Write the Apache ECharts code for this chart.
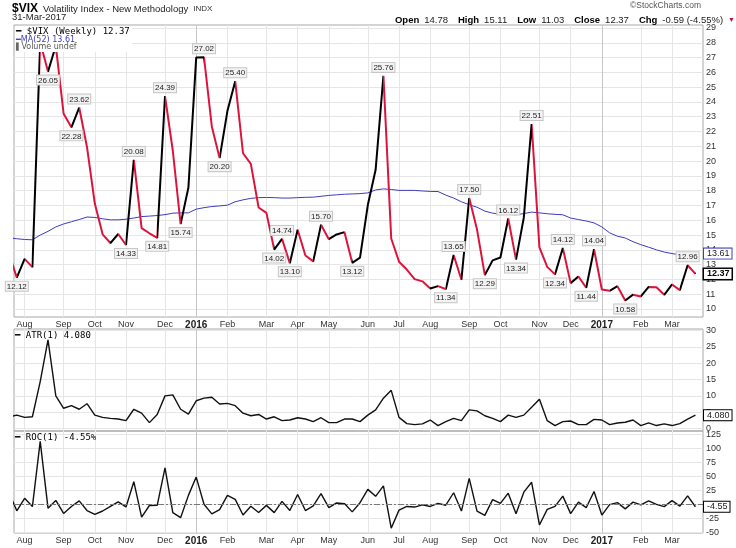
<!DOCTYPE html>
<html><head><meta charset="utf-8">
<script src="https://cdn.jsdelivr.net/npm/echarts@6/dist/echarts.min.js"></script>
<style>html,body{margin:0;padding:0;background:#fff}#c{width:736px;height:548px}</style>
</head><body><div id="c"></div>
<script>
// ---- data (weekly closes, week index = position in weekEnding) ----
const weekEnding = [
 '2015-07-24','2015-07-31','2015-08-07','2015-08-14','2015-08-21','2015-08-28','2015-09-04','2015-09-11','2015-09-18','2015-09-25',
 '2015-10-02','2015-10-09','2015-10-16','2015-10-23','2015-10-30','2015-11-06','2015-11-13','2015-11-20','2015-11-27','2015-12-04',
 '2015-12-11','2015-12-18','2015-12-24','2015-12-31','2016-01-08','2016-01-15','2016-01-22','2016-01-29','2016-02-05','2016-02-12',
 '2016-02-19','2016-02-26','2016-03-04','2016-03-11','2016-03-18','2016-03-24','2016-04-01','2016-04-08','2016-04-15','2016-04-22',
 '2016-04-29','2016-05-06','2016-05-13','2016-05-20','2016-05-27','2016-06-03','2016-06-10','2016-06-17','2016-06-24','2016-07-01',
 '2016-07-08','2016-07-15','2016-07-22','2016-07-29','2016-08-05','2016-08-12','2016-08-19','2016-08-26','2016-09-02','2016-09-09',
 '2016-09-16','2016-09-23','2016-09-30','2016-10-07','2016-10-14','2016-10-21','2016-10-28','2016-11-04','2016-11-11','2016-11-18',
 '2016-11-25','2016-12-02','2016-12-09','2016-12-16','2016-12-23','2016-12-30','2017-01-06','2017-01-13','2017-01-20','2017-01-27',
 '2017-02-03','2017-02-10','2017-02-17','2017-02-24','2017-03-03','2017-03-10','2017-03-17','2017-03-24','2017-03-31'];
const vix = [
 13.74,12.12,13.39,12.83,28.03,26.05,27.80,23.20,22.28,23.62,
 20.94,17.13,15.05,14.46,15.07,14.33,20.08,15.47,15.12,14.81,
 24.39,20.70,15.74,18.21,27.01,27.02,22.34,20.20,23.38,25.40,
 20.53,19.81,16.86,16.50,14.02,14.74,13.10,15.36,13.62,13.22,
 15.70,14.72,15.04,15.20,13.12,13.47,17.03,19.41,25.76,14.77,
 13.20,12.67,12.02,11.87,11.39,11.55,11.34,13.65,11.98,17.50,
 15.37,12.29,13.29,13.48,16.12,13.34,16.19,22.51,14.17,12.85,
 12.34,14.12,11.75,12.20,11.44,14.04,11.32,11.23,11.54,10.58,
 10.97,10.85,11.49,11.47,10.96,11.66,11.28,12.96,12.37];
const ma52 = [
 14.80,14.75,14.70,14.68,15.00,15.25,15.55,15.75,15.90,16.05,
 16.22,16.19,16.10,16.03,16.03,16.07,16.15,16.25,16.28,16.32,
 16.38,16.48,16.50,16.50,16.75,16.85,16.93,16.97,17.02,17.25,
 17.38,17.48,17.53,17.54,17.53,17.50,17.50,17.53,17.55,17.56,
 17.62,17.68,17.72,17.76,17.78,17.80,17.85,18.05,18.12,18.08,
 18.02,18.02,18.02,17.98,17.95,17.94,17.70,17.50,17.25,17.05,
 16.88,16.62,16.48,16.40,16.40,16.37,16.45,16.55,16.50,16.44,
 16.40,16.37,16.15,16.05,15.95,15.82,15.55,15.15,14.92,14.80,
 14.55,14.35,14.18,14.00,13.85,13.75,13.66,13.63,13.61];
const atr1 = [
 3.5,4.1,3.4,3.6,14.4,27.2,10.0,6.2,7.0,5.9,
 7.6,4.1,3.4,3.1,2.9,2.4,5.9,4.7,1.8,4.3,
 10.0,10.3,5.9,4.4,8.5,9.3,9.6,7.5,7.7,7.0,
 4.7,3.9,4.3,2.9,3.6,2.4,2.6,3.3,2.9,2.1,
 3.3,1.8,1.8,2.9,2.9,2.1,4.1,5.7,9.3,11.7,
 3.4,1.5,1.2,1.4,2.6,0.9,2.1,3.1,2.4,5.7,
 5.4,3.9,3.1,2.1,4.1,3.4,4.1,6.5,9.0,2.4,
 0.9,2.1,2.3,1.2,1.2,2.8,2.6,1.2,1.7,1.9,
 2.6,0.9,1.7,0.9,1.4,0.9,1.5,2.9,4.08];
const roc1 = [
 20,-11.8,10.5,-4.2,112,-7.1,6.7,-16.5,-4.0,6.0,
 -11.3,-18.2,-12.1,-3.9,4.2,-4.9,40.1,-23.0,-2.3,-2.1,
 64.7,-15.1,-24.0,15.7,48.3,0.0,-17.3,-9.6,15.7,8.6,
 -19.2,-3.5,-14.9,-2.1,-15.0,5.1,-11.1,17.3,-11.3,-2.9,
 18.8,-6.2,2.2,1.1,-13.7,2.7,26.4,14.0,32.7,-42.7,
 -10.6,-4.0,-5.1,-1.2,-4.0,1.4,-1.8,20.4,-12.2,46.1,
 -12.2,-20.0,8.1,1.4,19.6,-17.2,21.4,39.0,-37.0,-9.3,
 -4.0,14.4,-16.8,3.8,-6.2,22.7,-19.4,-0.8,2.8,-8.3,
 3.7,-1.1,5.9,-0.2,-4.4,6.4,-3.3,14.9,-4.55];
const peakIdx = [9,16,20,25,29,35,40,48,57,59,64,67,71,75,87];
const troughIdx = [1,5,8,15,19,22,27,34,36,44,56,61,65,70,74,79];
const monthTickWeek = [2,7,11,15,20,24,28,33,37,41,46,50,54,59,63,68,72,76,81,85];
const monthTickLabel = ['Aug','Sep','Oct','Nov','Dec','2016','Feb','Mar','Apr','May','Jun','Jul','Aug','Sep','Oct','Nov','Dec','2017','Feb','Mar'];
const vixTicks = [10,11,12,13,14,15,16,17,18,19,20,21,22,23,24,25,26,27,28,29];
const atrTicks = [0,5,10,15,20,25,30];
const rocTicks = [-50,-25,0,25,50,75,100,125];
const lastClose = 12.37, lastMA = 13.61, lastATR = 4.08, lastROC = -4.55;

// ---- styling ----
const F = 'Liberation Sans, Arial, sans-serif';
const MONO = 'DejaVu Sans Mono, monospace';
const RED = '#dc143c', BLUE = '#3c3cc0', GRIDC = '#e6e6e6', YEARC = '#c6c6c6', BORDER = '#a8a8a8';
const NONE = 'rgba(0,0,0,0)';
const isYear = t => /^\d{4}$/.test(t);
const vSplitColors = monthTickLabel.map(t => isYear(t) ? YEARC : GRIDC);

// colour pieces: red for falling segments, black for rising
const pieces = [];
for (let i = 0; i < vix.length - 1; i++) {
  const c = vix[i + 1] < vix[i] ? RED : '#000';
  const last = pieces[pieces.length - 1];
  if (last && last.color === c) last.lt = i + 1;
  else pieces.push({gte: i, lt: i + 1, color: c});
}
pieces[pieces.length - 1].lte = pieces[pieces.length - 1].lt; delete pieces[pieces.length - 1].lt;

const vixData = vix.map((v, i) => {
  const it = {value: [i, v]};
  if (peakIdx.includes(i)) it.label = {show: true, position: 'top', distance: 4};
  else if (troughIdx.includes(i)) it.label = {show: true, position: 'bottom', distance: 4};
  return it;
});

const xMin = 0.64, xMax = 88.97;
function xAxisCfg(gi, showLabel) {
  return {
    type: 'value', gridIndex: gi, min: xMin, max: xMax,
    axisLine: {show: false}, axisTick: {show: false, customValues: monthTickWeek},
    axisLabel: {show: showLabel, customValues: monthTickWeek, margin: 3, fontSize: 9, color: '#333', fontFamily: F,
      formatter: v => { const k = monthTickWeek.indexOf(v); const t = k >= 0 ? monthTickLabel[k] : ''; return isYear(t) ? '{y|' + t + '}' : t; },
      rich: {y: {fontWeight: 'bold', fontSize: 10, color: '#222', fontFamily: F}}},
    splitLine: {show: true, lineStyle: {color: vSplitColors, width: 1}}
  };
}
function yAxisCfg(gi, min, max, ticks) {
  return {
    type: 'value', gridIndex: gi, position: 'right', min: min, max: max,
    axisLine: {show: false}, axisTick: {show: false, customValues: ticks},
    axisLabel: {customValues: ticks, margin: 3, fontSize: 9, color: '#333', fontFamily: F},
    splitLine: {show: true, lineStyle: {color: GRIDC, width: 1}}
  };
}
const boxLabel = (txt, bc, bold) => ({show: true, position: 'end', distance: 1, formatter: txt, fontSize: 9, fontFamily: F,
  fontWeight: bold ? 'bold' : 'normal', color: bold ? '#000' : '#222', backgroundColor: '#fff', borderColor: bc,
  borderWidth: bold ? 1.5 : 1, padding: [1, 2, 0, 3]});
const hidden = {color: NONE, width: 0, opacity: 1};

const option = {
  animation: false,
  backgroundColor: '#fff',
  title: [
    {text: '{a|$VIX} {b|Volatility Index - New Methodology} {c|INDX}', left: 12, top: 0, padding: 0,
      textStyle: {fontWeight: 'normal', rich: {a: {fontSize: 12, fontWeight: 'bold', color: '#000', fontFamily: F},
        b: {fontSize: 9.5, fontWeight: 'normal', color: '#222', fontFamily: F}, c: {fontSize: 8, fontWeight: 'normal', color: '#333', fontFamily: F}}}},
    {text: '31-Mar-2017', left: 12, top: 12, padding: 0, textStyle: {fontSize: 9.5, fontWeight: 'normal', color: '#222', fontFamily: F}},
    {text: '\u00a9StockCharts.com', right: 35, top: 1, padding: 0, textStyle: {fontSize: 8.5, fontWeight: 'normal', color: '#555', fontFamily: F}},
    {text: '{l|Open} {v|14.78}  {l|High} {v|15.11}  {l|Low} {v|11.03}  {l|Close} {v|12.37}  {l|Chg} {v|-0.59 (-4.55%)} {t|\u25bc}',
      right: 1, top: 11, padding: 0,
      textStyle: {fontWeight: 'normal', rich: {l: {fontSize: 9.5, fontWeight: 'bold', color: '#000', fontFamily: F},
        v: {fontSize: 9.5, fontWeight: 'normal', color: '#222', fontFamily: F}, t: {fontSize: 7, fontWeight: 'normal', color: '#c0143c', fontFamily: F}}}},
    {text: '{k|\u2501 $VIX (Weekly) 12.37}\n{m|\u2501}{mt|MA(52) 13.61}\n{g|\u258c}{gt|Volume undef}', left: 15, top: 27,
      padding: [0, 2, 1, 1], backgroundColor: '#fff',
      textStyle: {fontWeight: 'normal', rich: {k: {fontSize: 9, fontWeight: 'normal', color: '#000', fontFamily: MONO, lineHeight: 9},
        m: {fontSize: 8, fontWeight: 'normal', color: BLUE, fontFamily: MONO, lineHeight: 7.5},
        mt: {fontSize: 8, fontWeight: 'normal', color: BLUE, fontFamily: 'DejaVu Sans, sans-serif', lineHeight: 7.5},
        g: {fontSize: 7, fontWeight: 'normal', color: '#666', fontFamily: 'DejaVu Sans', lineHeight: 7},
        gt: {fontSize: 8, fontWeight: 'normal', color: '#555', fontFamily: 'DejaVu Sans, sans-serif', lineHeight: 7}}}},
    {text: '\u2501 ATR(1) 4.080', left: 15, top: 331, padding: 0, textStyle: {fontSize: 9, fontWeight: 'normal', color: '#000', fontFamily: MONO}},
    {text: '\u2501 ROC(1) -4.55%', left: 15, top: 433, padding: 0, textStyle: {fontSize: 9, fontWeight: 'normal', color: '#000', fontFamily: MONO}}
  ],
  grid: [
    {left: 14, right: 33, top: 25, height: 292, show: true, borderColor: BORDER, borderWidth: 1, backgroundColor: 'transparent'},
    {left: 14, right: 33, top: 329, height: 102, show: true, borderColor: BORDER, borderWidth: 1, backgroundColor: 'transparent'},
    {left: 14, right: 33, top: 431, height: 102, show: true, borderColor: BORDER, borderWidth: 1, backgroundColor: 'transparent'}
  ],
  xAxis: [xAxisCfg(0, true), xAxisCfg(1, false), xAxisCfg(2, true)],
  yAxis: [yAxisCfg(0, 9.46, 29.2, vixTicks), yAxisCfg(1, -0.77, 30.52, atrTicks), yAxisCfg(2, -51.3, 130.4, rocTicks)],
  visualMap: [{type: 'piecewise', show: false, seriesIndex: 0, dimension: 0, pieces: pieces, outOfRange: {color: '#000'}}],
  series: [
    {name: '$VIX', type: 'line', xAxisIndex: 0, yAxisIndex: 0, data: vixData, showSymbol: true, symbol: 'circle', symbolSize: 0,
      lineStyle: {width: 2}, z: 3,
      label: {show: false, formatter: p => p.value[1].toFixed(2), fontSize: 8, fontFamily: F, color: '#222',
        backgroundColor: '#f3f3f3', borderColor: '#c6c6c6', borderWidth: 1, padding: [1, 1, 0, 1]},
      markLine: {silent: true, symbol: ['none', 'none'], animation: false, z: 10,
        data: [{yAxis: lastClose, lineStyle: hidden, label: boxLabel(lastClose.toFixed(2), '#000', true)}]}},
    {name: 'MA(52)', type: 'line', xAxisIndex: 0, yAxisIndex: 0, data: ma52.map((v, i) => [i, v]), showSymbol: false,
      lineStyle: {width: 1, color: BLUE}, itemStyle: {color: BLUE}, z: 2,
      markLine: {silent: true, symbol: ['none', 'none'], animation: false, z: 10,
        data: [{yAxis: lastMA, lineStyle: hidden, label: Object.assign(boxLabel(lastMA.toFixed(2), BLUE, false), {offset: [0, -2]})}]}},
    {name: 'ATR(1)', type: 'line', xAxisIndex: 1, yAxisIndex: 1, data: atr1.map((v, i) => [i, v]), showSymbol: false,
      lineStyle: {width: 1.4, color: '#111'}, itemStyle: {color: '#111'},
      markLine: {silent: true, symbol: ['none', 'none'], animation: false, z: 10,
        data: [{yAxis: lastATR, lineStyle: hidden, label: boxLabel(lastATR.toFixed(3), '#000', false)}]}},
    {name: 'ROC(1)', type: 'line', xAxisIndex: 2, yAxisIndex: 2, data: roc1.map((v, i) => [i, v]), showSymbol: false,
      lineStyle: {width: 1.4, color: '#111'}, itemStyle: {color: '#111'},
      markLine: {silent: true, symbol: ['none', 'none'], animation: false, z: 10,
        data: [
          {yAxis: 0, lineStyle: {color: '#777', width: 1, type: [6, 2, 2, 2]}, label: {show: false}},
          {yAxis: lastROC, lineStyle: hidden, label: boxLabel(lastROC.toFixed(2), '#000', false)}]}}
  ]
};
const chart = echarts.init(document.getElementById('c'));
chart.setOption(option);
</script></body></html>
